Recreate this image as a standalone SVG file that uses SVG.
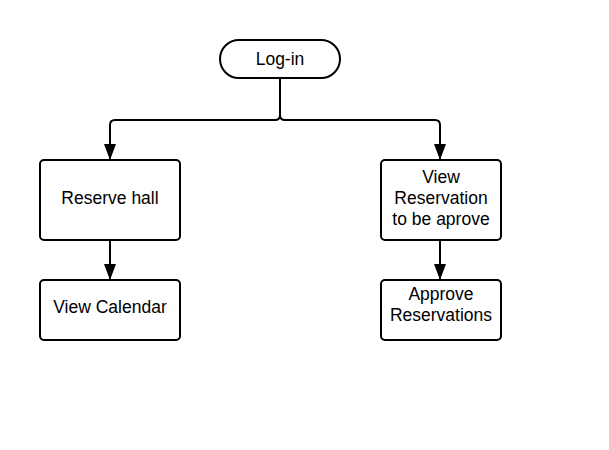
<svg xmlns="http://www.w3.org/2000/svg" width="609" height="450" viewBox="0 0 609 450">
<style>
.box{fill:#fff;stroke:#000;stroke-width:2}
.t{font-family:"Liberation Sans",Arial,sans-serif;font-size:17.5px;fill:#000;text-anchor:middle}
.c{fill:none;stroke:#000;stroke-width:2}
</style>
<defs>
<marker id="ah" viewBox="0 0 16 12" refX="16" refY="6" markerWidth="16" markerHeight="12" markerUnits="userSpaceOnUse" orient="auto">
<path d="M0,0 L16,6 L0,12 Z" fill="#000"/>
</marker>
</defs>
<rect width="609" height="450" fill="#fff"/>
<g id="connectors">
<path class="c" d="M280,78 V115 Q280,120 275,120 H115 Q110,120 110,125 V160" marker-end="url(#ah)"/>
<path class="c" d="M280,78 V115 Q280,120 285,120 H435 Q440,120 440,125 V160" marker-end="url(#ah)"/>
<path class="c" d="M110,240 V280" marker-end="url(#ah)"/>
<path class="c" d="M440,240 V280" marker-end="url(#ah)"/>
</g>
<g id="login">
<rect class="box" x="220" y="40" width="120" height="38" rx="19"/>
<text class="t" x="280" y="65">Log-in</text>
</g>
<g id="reserve-hall">
<rect class="box" x="40" y="160" width="140" height="80" rx="4"/>
<text class="t" x="110" y="204">Reserve hall</text>
</g>
<g id="view-calendar">
<rect class="box" x="40" y="280" width="140" height="60" rx="4"/>
<text class="t" x="110" y="313">View Calendar</text>
</g>
<g id="view-reservation">
<rect class="box" x="381" y="160" width="120" height="80" rx="4"/>
<text class="t" x="441" y="183">View</text>
<text class="t" x="441" y="204">Reservation</text>
<text class="t" x="441" y="225">to be aprove</text>
</g>
<g id="approve-reservations">
<rect class="box" x="381" y="280" width="120" height="60" rx="4"/>
<text class="t" x="441" y="300">Approve</text>
<text class="t" x="441" y="321">Reservations</text>
</g>
</svg>
